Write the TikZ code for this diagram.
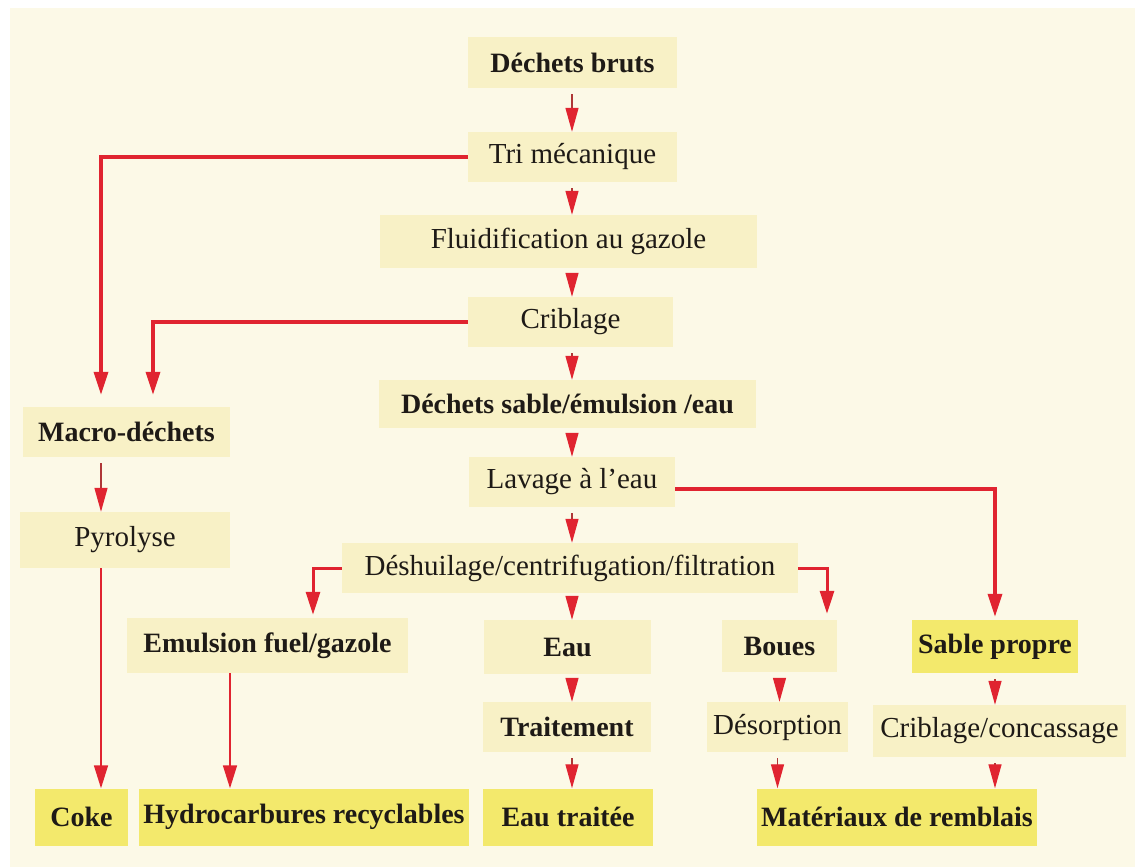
\documentclass[tikz,border=0pt]{standalone}
\usepackage{fontspec}
\setmainfont{Liberation Serif}
\usetikzlibrary{arrows.meta,calc}
\definecolor{bgc}{RGB}{252,249,231}
\definecolor{lbox}{RGB}{248,241,198}
\definecolor{dbox}{RGB}{243,233,108}
\definecolor{redc}{RGB}{224,36,48}
\definecolor{stemc}{RGB}{175,55,55}
\definecolor{txt}{RGB}{30,26,22}
\begin{document}
\begin{tikzpicture}[x=1pt,y=-1pt,
  box/.style={rectangle, fill=lbox, inner sep=0pt, text=txt, font=\fontsize{29}{32}\selectfont},
  bbox/.style={box, font=\fontsize{28}{32}\selectfont\bfseries},
  dkbox/.style={bbox, fill=dbox},
  sarr/.style={draw=stemc, line width=1.3pt, shorten <=6pt, -{Triangle[width=13pt,length=24pt,fill=redc,color=redc]}},
  larr/.style={draw=redc, line width=1.6pt, -{Triangle[width=14pt,length=23pt]}},
  tarr/.style={draw=redc, line width=3.5pt, -{Triangle[width=14pt,length=23pt]}},
]
\useasboundingbox (0,0) rectangle (1135,867);
\fill[white] (0,0) rectangle (1135,867);
\fill[bgc] (10,8) rectangle (1135,867);

% main column
\node[bbox, minimum width=209pt, minimum height=51pt] (db) at (572.5,62.5) {Déchets bruts};
\node[box, minimum width=209pt, minimum height=50pt] (tri) at (572.5,157) {Tri mécanique};
\node[box, minimum width=377pt, minimum height=53pt] (flu) at (568.5,241.5) {Fluidification au gazole};
\node[box, minimum width=205pt, minimum height=50pt] (cri) at (570.5,322) {Criblage};
\node[bbox, minimum width=377pt, minimum height=48pt] (dse) at (567.5,404) {Déchets sable/émulsion /eau};
\node[box, minimum width=206pt, minimum height=50pt] (lav) at (572,482) {Lavage à l’eau};
\node[box, minimum width=456pt, minimum height=50pt] (des) at (570,568) {Déshuilage/centrifugation/filtration};

% left column
\node[bbox, minimum width=207pt, minimum height=50pt] (mac) at (126.5,432) {Macro-déchets};
\node[box, minimum width=210pt, minimum height=56pt] (pyr) at (125,540) {Pyrolyse};

% third row
\node[bbox, minimum width=281pt, minimum height=55pt] (emu) at (267.5,645.5) {Emulsion fuel/gazole};
\node[bbox, minimum width=167pt, minimum height=54pt] (eau) at (567.5,647) {Eau};
\node[bbox, minimum width=115pt, minimum height=52pt] (bou) at (779.5,646) {Boues};
\node[dkbox, minimum width=166pt, minimum height=53pt] (sab) at (995,646.5) {Sable propre};

% fourth row
\node[bbox, minimum width=168pt, minimum height=50pt] (tra) at (567,727) {Traitement};
\node[box, minimum width=141pt, minimum height=50pt] (dso) at (777.5,727) {Désorption};
\node[box, minimum width=253pt, minimum height=52pt] (cc) at (999.5,731) {Criblage/concassage};

% bottom row
\node[dkbox, minimum width=93pt, minimum height=57pt] (cok) at (81.5,817) {Coke};
\node[dkbox, minimum width=330pt, minimum height=57pt] (hyd) at (304,817) {Hydrocarbures recyclables};
\node[dkbox, minimum width=170pt, minimum height=57pt] (eat) at (568,817) {Eau traitée};
\node[dkbox, minimum width=280pt, minimum height=57pt] (mat) at (897,817) {Matériaux de remblais};

% x positions of bends
\coordinate (xa) at (101,0);
\coordinate (xb) at (153,0);
\coordinate (xc) at (230,0);
\coordinate (xd) at (313,0);
\coordinate (xe) at (827,0);
\coordinate (xm) at (572,0);

% short arrows, main column
\draw[sarr] (xm |- db.south) -- (xm |- tri.north);
\draw[sarr] (xm |- tri.south) -- (xm |- flu.north);
\draw[sarr] (xm |- flu.south) -- (xm |- cri.north);
\draw[sarr] (xm |- cri.south) -- (xm |- dse.north);
\draw[sarr] (xm |- dse.south) -- (xm |- lav.north);
\draw[sarr] (xm |- lav.south) -- (xm |- des.north);
\draw[sarr] (xm |- des.south) -- (xm |- eau.north);
\draw[sarr] (xm |- eau.south) -- (xm |- tra.north);
\draw[sarr] (xm |- tra.south) -- (xm |- eat.north);

% other short arrows
\draw[sarr] (xa |- mac.south) -- (xa |- pyr.north);
\draw[sarr] (bou.south) -- (bou.south |- dso.north);
\draw[sarr] (dso.south) -- (dso.south |- mat.north);
\draw[sarr] (sab.south) -- (sab.south |- cc.north);
\draw[sarr] (sab.south |- cc.south) -- (sab.south |- mat.north);

% long thin arrows
\draw[larr] (xa |- pyr.south) -- (xa |- cok.north);
\draw[larr] (xc |- emu.south) -- (xc |- hyd.north);

% thick connectors
\draw[tarr, shorten >=12pt] (tri.west) -| (xa |- mac.north);
\draw[tarr, shorten >=12pt] (cri.west) -| (xb |- mac.north);
\draw[tarr, shorten >=3pt] ([yshift=-7pt]lav.east) -| (sab.north);
\draw[tarr, line width=3pt, shorten >=3pt] (des.west) -| (xd |- emu.north);
\draw[tarr, line width=3pt, shorten >=6pt] (des.east) -| (xe |- bou.north);
\end{tikzpicture}
\end{document}
